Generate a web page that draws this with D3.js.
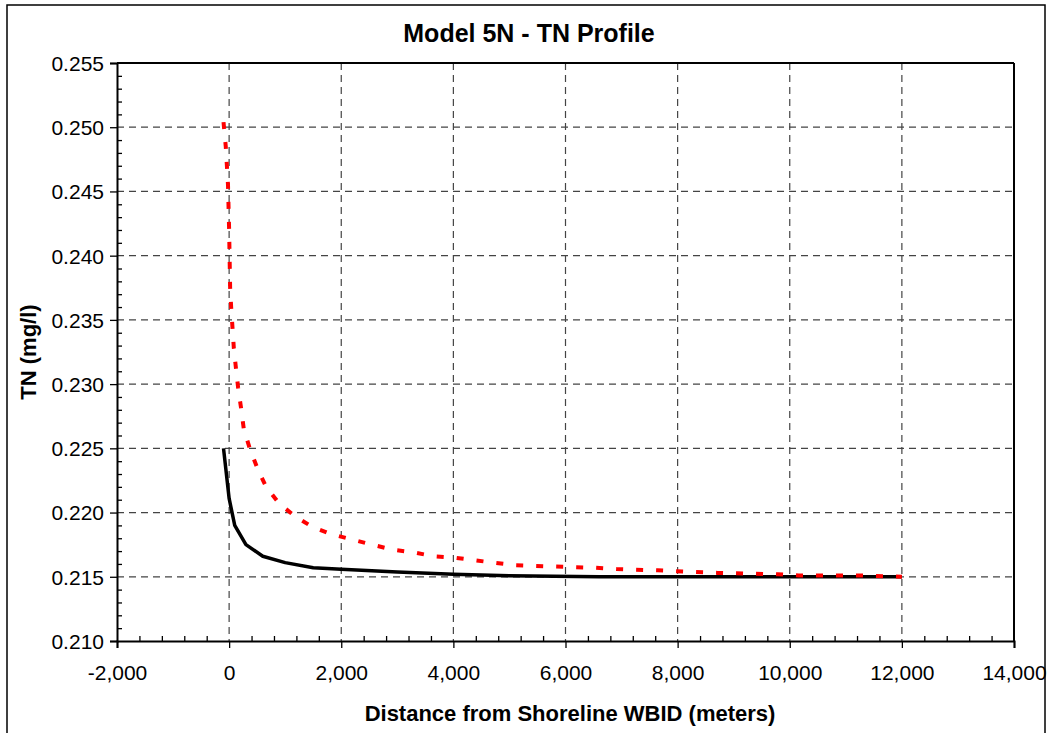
<!DOCTYPE html>
<html>
<head>
<meta charset="utf-8">
<script src="https://cdn.jsdelivr.net/npm/d3@7"></script>
<style>
  html, body { margin: 0; padding: 0; background: #fff; }
  svg { display: block; }
  text { font-family: "Liberation Sans", Arial, sans-serif; fill: #000; }
</style>
</head>
<body>
<svg id="chart" width="1052" height="733"></svg>
<script>
// ---- Data ----
const chartTitle = "Model 5N - TN Profile";
const xTitle = "Distance from Shoreline WBID (meters)";
const yTitle = "TN (mg/l)";

const xTicks = [-2000, 0, 2000, 4000, 6000, 8000, 10000, 12000, 14000];
const yTicks = [0.210, 0.215, 0.220, 0.225, 0.230, 0.235, 0.240, 0.245, 0.250, 0.255];

// Solid black series
const blackX = [-100, 0, 100, 300, 600, 1000, 1500, 2000, 3000, 4000, 5000, 6600, 8000, 10000, 12000];
const blackY = [0.2250, 0.2211, 0.2190, 0.2175, 0.2166, 0.2161, 0.2157, 0.21558, 0.21538, 0.2152, 0.21508, 0.2150, 0.2150, 0.2150, 0.2150];

// Dotted red series
const redX = [-100, -60, -40, -20, 0, 18, 36, 84, 120, 161, 214, 262, 375, 518, 660, 893, 1179, 1477, 1834, 2191, 2548, 2929, 3286, 3643, 4000, 4357, 4714, 5089, 5800, 6536, 6911, 7643, 8714, 9786, 10160, 11232, 12000];
const redY = [0.2504, 0.2485, 0.2470, 0.2455, 0.2420, 0.2375, 0.2360, 0.2328, 0.2313, 0.2297, 0.2281, 0.2265, 0.2249, 0.2233, 0.2220, 0.2207, 0.2197, 0.2189, 0.2183, 0.2179, 0.2175, 0.2171, 0.2169, 0.2166, 0.2165, 0.2163, 0.2161, 0.2159, 0.2158, 0.2157, 0.2156, 0.2155, 0.2153, 0.2152, 0.2151, 0.2151, 0.2150];

// ---- Layout ----
const svg = d3.select("#chart");
const L = 117, R = 1014, T = 63, B = 641;

const x = d3.scaleLinear().domain([-2000, 14000]).range([L, R]);
const y = d3.scaleLinear().domain([0.210, 0.255]).range([B, T]);

// outer border
svg.append("rect").attr("x", 7).attr("y", 5).attr("width", 1038).attr("height", 740)
  .attr("fill", "none").attr("stroke", "#000").attr("stroke-width", 1.5);

// gridlines
const grid = svg.append("g");
grid.selectAll("line.v").data(xTicks.filter(d => d > -2000 && d < 14000)).enter().append("line")
  .attr("x1", d => x(d)).attr("x2", d => x(d)).attr("y1", T).attr("y2", B)
  .attr("stroke", "#444").attr("stroke-width", 1.2).attr("stroke-dasharray", "7,5");
grid.selectAll("line.h").data(yTicks.filter(d => d > 0.2101 && d < 0.2549)).enter().append("line")
  .attr("x1", L).attr("x2", R).attr("y1", d => y(d)).attr("y2", d => y(d))
  .attr("stroke", "#444").attr("stroke-width", 1.2).attr("stroke-dasharray", "7,5");

// plot frame (top & right)
svg.append("line").attr("x1", L).attr("x2", R).attr("y1", T).attr("y2", T).attr("stroke", "#000").attr("stroke-width", 2);
svg.append("line").attr("x1", R).attr("x2", R).attr("y1", T).attr("y2", B).attr("stroke", "#000").attr("stroke-width", 2);

// axes
const xMinor = d3.range(-2000, 14001, 400).filter(d => !xTicks.includes(d));
const yMinor = d3.range(210, 256, 1).map(d => d / 1000).filter(d => !yTicks.some(t => Math.abs(t - d) < 1e-9));
const fmtX = d => d3.format(",")(d).replace("\u2212", "-");

const xAxis = svg.append("g").attr("transform", `translate(0,${B})`)
  .call(d3.axisBottom(x).tickValues(xTicks).tickSize(7).tickPadding(17)
    .tickFormat(fmtX));
const xAxisMinor = svg.append("g").attr("transform", `translate(0,${B})`)
  .call(d3.axisTop(x).tickValues(xMinor).tickSize(5).tickFormat(""));
const yAxis = svg.append("g").attr("transform", `translate(${L},0)`)
  .call(d3.axisLeft(y).tickValues(yTicks).tickSize(7).tickPadding(6)
    .tickFormat(d3.format(".3f")));
const yAxisMinor = svg.append("g").attr("transform", `translate(${L},0)`)
  .call(d3.axisRight(y).tickValues(yMinor).tickSize(5).tickFormat(""));

[xAxis, xAxisMinor, yAxis, yAxisMinor].forEach(g => {
  g.select(".domain").attr("stroke", "#000").attr("stroke-width", 2);
  g.selectAll(".tick line").attr("stroke", "#000").attr("stroke-width", 1.3);
  g.selectAll("text").attr("font-family", "Liberation Sans, Arial, sans-serif")
    .attr("font-size", 21).attr("fill", "#000");
});
xAxisMinor.select(".domain").remove();
yAxisMinor.select(".domain").remove();
yAxis.selectAll("text").attr("dy", "0.35em");

// lines
const line = d3.line().x(d => x(d[0])).y(d => y(d[1]));
const blackData = blackX.map((v, i) => [v, blackY[i]]);
const redData = redX.map((v, i) => [v, redY[i]]);

svg.append("path").datum(blackData).attr("d", line)
  .attr("fill", "none").attr("stroke", "#000").attr("stroke-width", 3.5)
  .attr("stroke-linejoin", "round");
svg.append("path").datum(redData).attr("d", line)
  .attr("fill", "none").attr("stroke", "#ff0000").attr("stroke-width", 4)
  .attr("stroke-dasharray", "7,13");

// titles
svg.append("text").attr("x", 529).attr("y", 42).attr("text-anchor", "middle")
  .attr("font-size", 25).attr("font-weight", "bold").text(chartTitle);
svg.append("text").attr("x", 570).attr("y", 721).attr("text-anchor", "middle")
  .attr("font-size", 22).attr("font-weight", "bold").text(xTitle);
svg.append("text").attr("transform", "translate(36,352) rotate(-90)").attr("text-anchor", "middle")
  .attr("font-size", 22).attr("font-weight", "bold").text(yTitle);
</script>
</body>
</html>
